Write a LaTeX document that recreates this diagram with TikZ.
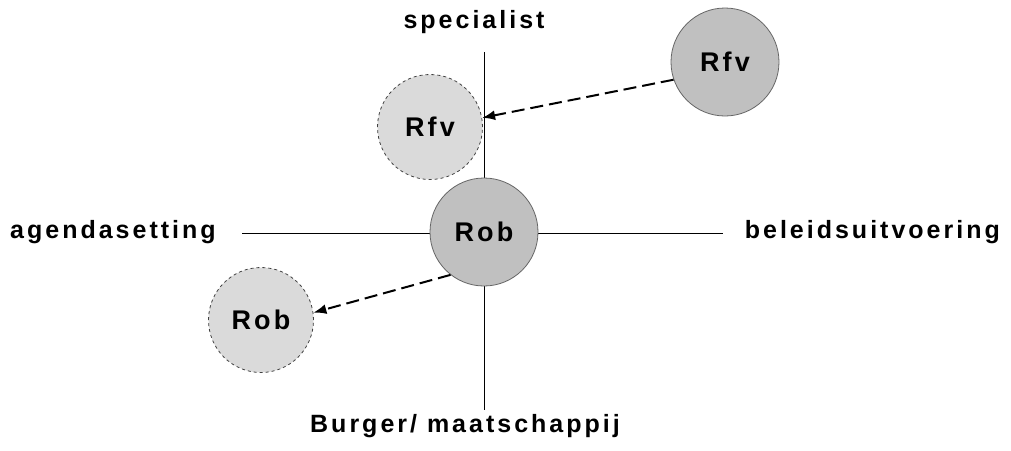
\documentclass[tikz,border=0pt]{standalone}
\usepackage{fontspec}
\setmainfont{Liberation Sans}
\newfontfamily\lblfont[LetterSpace=12]{Liberation Sans}
\usetikzlibrary{arrows.meta}
\definecolor{solidgray}{RGB}{192,192,192}
\definecolor{lightgray2}{RGB}{218,218,218}
\begin{document}
\begin{tikzpicture}[x=1pt,y=-1pt,
  axis/.style={draw=black,line width=0.8pt},
  solidc/.style={circle,draw=black!60,line width=0.8pt,fill=solidgray,minimum size=108pt,inner sep=0pt,font=\lblfont\bfseries\fontsize{27}{31}\selectfont},
  dashc/.style={circle,draw=black!75,dashed,line width=0.8pt,fill=lightgray2,minimum size=105pt,inner sep=0pt,font=\lblfont\bfseries\fontsize{27}{31}\selectfont},
  axlabel/.style={font=\lblfont\bfseries\fontsize{25}{29}\selectfont,inner sep=0pt},
  move/.style={draw=black,dashed,dash pattern=on 13pt off 6pt,line width=2pt,-{Latex[length=13pt,width=10pt]}}
]
\useasboundingbox (0,0) rectangle (1011,450);
\coordinate (vt) at (484,52);
\coordinate (vb) at (484,410);
\coordinate (hl) at (242,233);
\coordinate (hr) at (723,233);
\draw[axis] (vt) -- (vb);
\draw[axis] (hl) -- (hr);
\node[solidc] (rob) at (484,232) {Rob};
\node[dashc] (rfv1) at (430,127) {Rfv};
\node[solidc] (rfv2) at (725,62) {Rfv};
\node[dashc] (rob2) at (261,320) {Rob};
\draw[move] (rfv2.199) -- (rfv1.10);
\draw[move] (rob.232) -- (rob2.8);
\node[axlabel,anchor=base] (spec) at (474,28) {specialist};
\node[axlabel,anchor=base west] (agenda) at (10,238) {agendasetting};
\node[axlabel,anchor=base east] (beleid) at (1000,238) {beleidsuitvoering};
\node[axlabel,anchor=base] (burger) at (465,432) {Burger/ maatschappij};
\end{tikzpicture}
\end{document}
